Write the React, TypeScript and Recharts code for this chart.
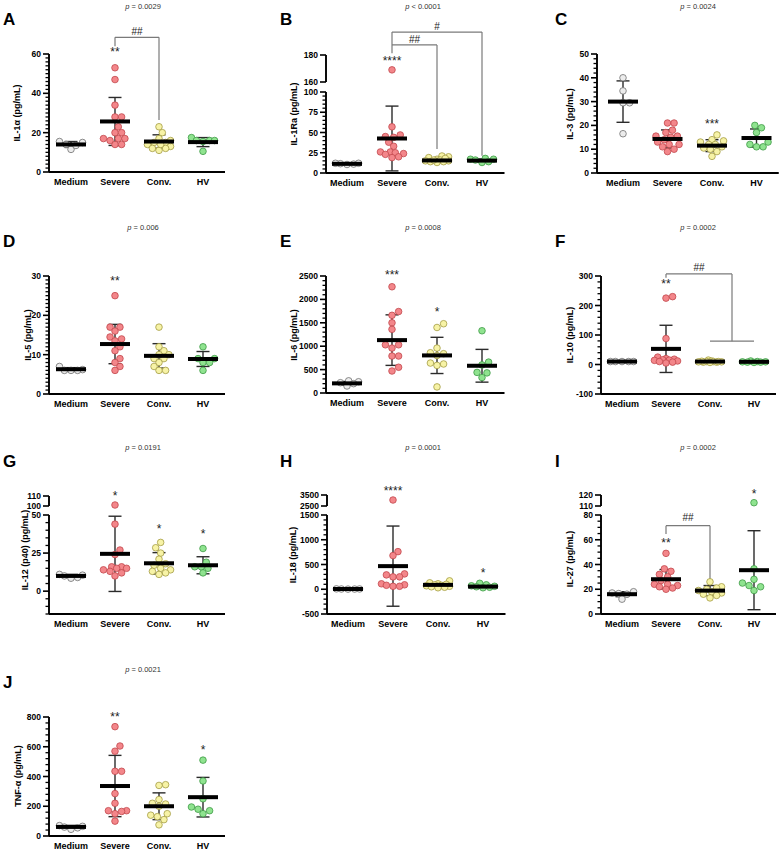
import React from 'react';
import { ComposedChart, Scatter, XAxis, YAxis, ErrorBar, ReferenceLine, ReferenceDot } from 'recharts';

// Groups shown on every x axis
const GROUPS = ['Medium', 'Severe', 'Conv.', 'HV'];
const DOT_FILL = ['#ececec', '#f3868a', '#f7f3a6', '#8fe38f'];
const DOT_STROKE = ['#707070', '#c2474d', '#a39c45', '#3f9a46'];

// ---- measured concentrations (pg/mL), per group: Medium, Severe, Conv., HV ----
const il1a = [
  [15, 15.5, 11.5, 14, 13.5],
  [53, 47, 34, 28, 28, 23, 20, 20, 17, 17, 17, 14, 14, 16],
  [23, 20, 17, 15, 15, 14, 13, 12, 12, 11, 16, 14],
  [17.5, 16, 16, 16, 15.5, 10.5],
];
const il1aMean = [14, 25.7, 15.5, 15.2];
const il1aSd = [1.5, 12.2, 3.4, 2.3];

const il1ra = [
  [12, 11, 11.5, 10.5, 12],
  [169, 57, 47, 45, 44, 38, 33, 26, 26, 25, 24, 23, 20, 19],
  [21, 20, 19, 17, 16, 15, 15, 14, 14, 13, 16, 18],
  [18, 17, 17, 16, 14, 13],
];
const il1raMean = [11.3, 42.6, 15.5, 15.3];
const il1raSd = [0.7, 40, 2.5, 2];

const il3 = [
  [40, 34.5, 29.5, 29.5, 16.5],
  [21, 21, 18, 17, 15.5, 15.5, 15, 14, 13, 12, 12, 11, 10, 9],
  [16, 14, 13.5, 13, 12, 12, 11, 10.5, 10, 9, 7],
  [20, 19, 17, 13, 11, 11, 12],
];
const il3Mean = [30, 14.3, 11.5, 14.7];
const il3Sd = [8.7, 3.8, 2.5, 3.8];

const il5 = [
  [7, 6.2, 6, 6, 6],
  [25, 17, 17, 16, 14.5, 14, 13.5, 12, 11, 9, 8, 7, 6],
  [17, 12, 11, 10, 10, 9, 9, 8, 7, 6, 6],
  [12, 9, 9, 8, 8, 6],
];
const il5Mean = [6.3, 12.7, 9.7, 8.9];
const il5Sd = [0.4, 5, 3.1, 1.9];

const il6 = [
  [260, 240, 220, 200, 150],
  [2270, 1740, 1660, 1500, 1360, 1030, 1030, 960, 790, 790, 550, 470],
  [1480, 1400, 960, 860, 840, 800, 640, 620, 590, 130],
  [1330, 660, 600, 440, 430, 330],
];
const il6Mean = [206, 1130, 803, 582];
const il6Sd = [40, 540, 387, 350];

const il10 = [
  [10, 10, 10, 10, 10],
  [230, 225, 88, 25, 20, 18, 16, 15, 14, 12, 10, 8, 5],
  [15, 12, 10, 10, 9, 8, 8, 10, 11, 9, 7],
  [12, 10, 9, 9, 8, 8, 7],
];
const il10Mean = [10, 53, 10, 9];
const il10Sd = [1, 80, 2, 1.5];

const il12 = [
  [11, 10.5, 10, 9, 8.5],
  [101, 44, 27, 24, 16, 16, 15, 15, 14, 13, 12, 10],
  [32, 28.5, 25, 21, 18, 17, 15, 14, 13, 12, 11],
  [28, 19, 16, 16, 15, 12],
];
const il12Mean = [10, 24.5, 18.3, 17];
const il12Sd = [1, 24.7, 7, 5.6];

const il18 = [
  [8, 6, 5, 4, 3],
  [3045, 760, 680, 310, 290, 250, 250, 110, 90, 80, 60, 60],
  [170, 130, 110, 100, 90, 80, 70, 60, 50, 40, 30],
  [120, 90, 70, 60, 50, 40, 30],
];
const il18Mean = [5, 467, 88, 54];
const il18Sd = [2, 810, 40, 30];

const il27 = [
  [18, 17, 16.5, 16, 12],
  [49, 36.5, 34.5, 32, 30, 27, 24, 24, 23, 22, 21, 20],
  [26, 22, 21, 20, 19, 18, 17, 16, 15, 13],
  [113, 36.5, 28, 25, 23, 22, 19],
];
const il27Mean = [16, 28.1, 18.9, 35.4];
const il27Sd = [2, 7.8, 4.1, 31.9];

const tnfa = [
  [70, 65, 60, 55, 45],
  [735, 605, 570, 435, 435, 285, 220, 170, 170, 165, 150, 100],
  [345, 340, 245, 220, 215, 200, 150, 140, 130, 110, 75],
  [510, 370, 250, 195, 180, 170, 150],
];
const tnfaMean = [61, 336, 200, 261];
const tnfaSd = [10, 206, 90, 133];

// ---- types ----
type Seg = { min: number; max: number; botPx: number; topPx: number; major: number[]; minor: number };
type Note = { x: number; y: number; text: string };
type Bracket = { path: [number, number][]; label?: Note };
type PanelDef = {
  letter: string;
  pOp: string;
  pVal: string;
  yLabel: string;
  values: number[][];
  means: number[];
  sds: number[];
  stars: Note[];
  brackets: Bracket[];
  col: number;
  row: number;
  axisX: number;
  catW: number;
  firstOff: number;
  labelX: number;
  labelY: number;
  lower: Seg;
  upper?: Seg;
};

const COL_LETTER_X = [3, 280, 555];
const COL_P_X = [143, 423, 698];
const ROW_LETTER_Y = [25, 247, 467, 688];
const ROW_P_Y = [9, 230, 450, 672];

const PANELS: PanelDef[] = [
  {
    letter: 'A', pOp: '=', pVal: '0.0029', yLabel: 'IL-1\u03b1 (pg/mL)',
    values: il1a, means: il1aMean, sds: il1aSd,
    stars: [{ x: 1, y: 61, text: '**' }],
    brackets: [{ path: [[1, 63.9], [1, 68.5], [2, 68.5], [2, 26.5]], label: { x: 1.5, y: 71.6, text: '##' } }],
    col: 0, row: 0, axisX: 49, catW: 44, firstOff: 22, labelX: 17, labelY: 113,
    lower: { min: 0, max: 60, botPx: 172, topPx: 54, major: [0, 20, 40, 60], minor: 2 },
  },
  {
    letter: 'B', pOp: '<', pVal: '0.0001', yLabel: 'IL-1Ra (pg/mL)',
    values: il1ra, means: il1raMean, sds: il1raSd,
    stars: [{ x: 1, y: 175.75, text: '****' }],
    brackets: [
      { path: [[1, 181.25], [1, 197], [3, 197], [3, 21.3]], label: { x: 2, y: 201.25, text: '#' } },
      { path: [[1, 187.5], [2, 187.5], [2, 29.5]], label: { x: 1.5, y: 191.25, text: '##' } },
    ],
    col: 1, row: 0, axisX: 326, catW: 45, firstOff: 21, labelX: 294, labelY: 114,
    lower: { min: 0, max: 100, botPx: 173, topPx: 92, major: [0, 25, 50, 75, 100], minor: 5 },
    upper: { min: 160, max: 180, botPx: 82, topPx: 55, major: [160, 180], minor: 0 },
  },
  {
    letter: 'C', pOp: '=', pVal: '0.0024', yLabel: 'IL-3 (pg/mL)',
    values: il3, means: il3Mean, sds: il3Sd,
    stars: [{ x: 2, y: 20.6, text: '***' }],
    brackets: [],
    col: 2, row: 0, axisX: 597, catW: 44.5, firstOff: 26, labelX: 570, labelY: 114,
    lower: { min: 0, max: 50, botPx: 173, topPx: 54, major: [0, 10, 20, 30, 40, 50], minor: 2 },
  },
  {
    letter: 'D', pOp: '=', pVal: '0.006', yLabel: 'IL-5 (pg/mL)',
    values: il5, means: il5Mean, sds: il5Sd,
    stars: [{ x: 1, y: 28.7, text: '**' }],
    brackets: [],
    col: 0, row: 1, axisX: 49, catW: 44, firstOff: 22, labelX: 28, labelY: 335,
    lower: { min: 0, max: 30, botPx: 394, topPx: 276, major: [0, 10, 20, 30], minor: 1 },
  },
  {
    letter: 'E', pOp: '=', pVal: '0.0008', yLabel: 'IL-6 (pg/mL)',
    values: il6, means: il6Mean, sds: il6Sd,
    stars: [{ x: 1, y: 2514, text: '***' }, { x: 2, y: 1726, text: '*' }],
    brackets: [],
    col: 1, row: 1, axisX: 326, catW: 45, firstOff: 21, labelX: 294, labelY: 335,
    lower: { min: 0, max: 2500, botPx: 393, topPx: 276, major: [0, 500, 1000, 1500, 2000, 2500], minor: 100 },
  },
  {
    letter: 'F', pOp: '=', pVal: '0.0002', yLabel: 'IL-10 (pg/mL)',
    values: il10, means: il10Mean, sds: il10Sd,
    stars: [{ x: 1, y: 272, text: '**' }],
    brackets: [
      { path: [[1, 294], [1, 307], [2.5, 307], [2.5, 79]], label: { x: 1.75, y: 328, text: '##' } },
      { path: [[2, 79], [3, 79]] },
    ],
    col: 2, row: 1, axisX: 601, catW: 44, firstOff: 21, labelX: 570, labelY: 335,
    lower: { min: -100, max: 300, botPx: 394, topPx: 276, major: [-100, 0, 100, 200, 300], minor: 20 },
  },
  {
    letter: 'G', pOp: '=', pVal: '0.0191', yLabel: 'IL-12 (p40) (pg/mL)',
    values: il12, means: il12Mean, sds: il12Sd,
    stars: [{ x: 1, y: 110.5, text: '*' }, { x: 2, y: 40.6, text: '*' }, { x: 3, y: 37.3, text: '*' }],
    brackets: [],
    col: 0, row: 2, axisX: 49, catW: 44, firstOff: 22, labelX: 25, labelY: 550,
    lower: { min: -15, max: 50, botPx: 614, topPx: 515, major: [0, 25, 50], minor: 5 },
    upper: { min: 100, max: 110, botPx: 506, topPx: 496, major: [100, 110], minor: 0 },
  },
  {
    letter: 'H', pOp: '=', pVal: '0.0001', yLabel: 'IL-18 (pg/mL)',
    values: il18, means: il18Mean, sds: il18Sd,
    stars: [{ x: 1, y: 3900, text: '****' }, { x: 3, y: 333, text: '*' }],
    brackets: [],
    col: 1, row: 2, axisX: 327, catW: 45, firstOff: 21, labelX: 293, labelY: 555,
    lower: { min: -500, max: 1500, botPx: 614, topPx: 515, major: [-500, 0, 500, 1000, 1500], minor: 100 },
    upper: { min: 2500, max: 3500, botPx: 506, topPx: 495, major: [2500, 3500], minor: 0 },
  },
  {
    letter: 'I', pOp: '=', pVal: '0.0002', yLabel: 'IL-27 (pg/mL)',
    values: il27, means: il27Mean, sds: il27Sd,
    stars: [{ x: 1, y: 57.3, text: '**' }, { x: 3, y: 121, text: '*' }],
    brackets: [{ path: [[1, 64.6], [1, 71.4], [2, 71.4], [2, 27.6]], label: { x: 1.5, y: 77.6, text: '##' } }],
    col: 2, row: 2, axisX: 601, catW: 44, firstOff: 21, labelX: 570, labelY: 559,
    lower: { min: 0, max: 80, botPx: 614, topPx: 515, major: [0, 20, 40, 60, 80], minor: 5 },
    upper: { min: 110, max: 120, botPx: 506, topPx: 495, major: [110, 120], minor: 0 },
  },
  {
    letter: 'J', pOp: '=', pVal: '0.0021', yLabel: 'TNF-\u03b1 (pg/mL)',
    values: tnfa, means: tnfaMean, sds: tnfaSd,
    stars: [{ x: 1, y: 800, text: '**' }, { x: 3, y: 579, text: '*' }],
    brackets: [],
    col: 0, row: 3, axisX: 49, catW: 44, firstOff: 22, labelX: 18, labelY: 776,
    lower: { min: 0, max: 800, botPx: 836, topPx: 717, major: [0, 200, 400, 600, 800], minor: 40 },
  },
];

const FONT = '"Liberation Sans", Arial, Helvetica, sans-serif';
const YW = 40;
const MT = 50;
const MR = 12;
const XH = 24;
const R = 3.3;
const MAX_SPREAD = 13;
const MINOR_LEN = 3.5;
const MAJOR_LEN = 6;

// Beeswarm: spread points sideways (px) so dots overlap as little as possible,
// within a fixed half-width around the group centre.
function swarm(vals: number[], toPx: (v: number) => number, r: number): number[] {
  const placed: { x: number; y: number }[] = [];
  const out: number[] = new Array(vals.length).fill(0);
  const order = vals.map((_, i) => i).sort((a, b) => vals[a] - vals[b]);
  const cands: number[] = [0];
  for (let k = 1; k * r * 0.5 <= MAX_SPREAD; k++) {
    cands.push(k * r * 0.5, -k * r * 0.5);
  }
  for (const i of order) {
    const y = toPx(vals[i]);
    let best = 0;
    let bestDist = -1;
    for (const c of cands) {
      const dmin = placed.length ? Math.min(...placed.map((p) => Math.hypot(p.x - c, p.y - y))) : Infinity;
      if (dmin >= 2 * r * 0.95) {
        best = c;
        bestDist = Infinity;
        break;
      }
      if (dmin > bestDist) {
        bestDist = dmin;
        best = c;
      }
    }
    out[i] = best;
    placed.push({ x: best, y });
  }
  return out;
}

function Panel({ d }: { d: PanelDef }) {
  const lo = d.lower;
  const up = d.upper;
  const pxLo = (lo.botPx - lo.topPx) / (lo.max - lo.min);
  const gapU = up ? (lo.topPx - up.botPx) / pxLo : 0;
  const upK = up ? (up.botPx - up.topPx) / (up.max - up.min) / pxLo : 1;
  // map a value onto the (possibly broken) axis
  const toD = (v: number) => (up && v >= up.min ? lo.max + gapU + (v - up.min) * upK : v);
  const dMin = lo.min;
  const dMax = up ? toD(up.max) : lo.max;
  const topPx = up ? up.topPx : lo.topPx;
  const plotH = lo.botPx - topPx;
  const xMin = -d.firstOff / d.catW;
  const xMax = 3.5;
  const plotW = (xMax - xMin) * d.catW;

  const tickInfo = new Map<string, { label: string; major: boolean; d: number }>();
  const addSeg = (s: Seg) => {
    const key = (v: number) => toD(v).toFixed(3);
    if (s.minor > 0) {
      for (let k = Math.ceil(s.min / s.minor - 1e-9); k * s.minor <= s.max + 1e-9; k++) {
        const v = k * s.minor;
        tickInfo.set(key(v), { label: String(v), major: false, d: toD(v) });
      }
    }
    s.major.forEach((v) => tickInfo.set(key(v), { label: String(v), major: true, d: toD(v) }));
  };
  addSeg(lo);
  if (up) addSeg(up);
  const tickList = Array.from(tickInfo.values());
  const majorVals = tickList.filter((t) => t.major).map((t) => t.d);

  const renderYTick = (props: any) => {
    const { y, payload } = props;
    const info = tickInfo.get(Number(payload.value).toFixed(3));
    if (!info) return <g />;
    return (
      <text x={YW - MAJOR_LEN - 2} y={y} textAnchor="end" dominantBaseline="central" fontSize={8.5} fontWeight="bold" fill="#000" fontFamily={FONT}>
        {info.label}
      </text>
    );
  };

  const renderXTick = (props: any) => {
    const { x } = props;
    const payload = props.payload;
    const y = MT + plotH;
    return (
      <text x={x} y={y + 10} textAnchor="middle" dominantBaseline="central" fontSize={9} fontWeight="bold" fill="#000" fontFamily={FONT}>
        {GROUPS[payload.value]}
      </text>
    );
  };

  const meanData = d.means.map((m, gi) => ({ x: gi, y: toD(m), err: d.sds[gi] }));

  return (
    <div style={{ position: 'absolute', left: d.axisX - YW, top: topPx - MT }}>
      <ComposedChart width={YW + plotW + MR} height={MT + plotH + XH} margin={{ top: MT, right: MR, bottom: 0, left: 0 }}>
        <XAxis
          type="number"
          dataKey="x"
          domain={[xMin, xMax]}
          allowDataOverflow
          ticks={[0, 1, 2, 3]}
          interval={0}
          tickSize={0}
          tickMargin={0}
          tickLine={false}
          axisLine={{ stroke: '#000', strokeWidth: 1.9 }}
          tick={renderXTick}
          height={XH}
        />
        <YAxis
          type="number"
          dataKey="y"
          domain={[dMin, dMax]}
          allowDataOverflow
          ticks={majorVals}
          interval={0}
          tickSize={0}
          tickMargin={0}
          tickLine={false}
          axisLine={false}
          tick={renderYTick}
          width={YW}
        />
        {/* axis spine, split into two pieces when the scale is broken */}
        <ReferenceLine
          segment={[{ x: xMin, y: toD(lo.min) }, { x: xMin, y: toD(lo.max) }]}
          stroke="#000"
          strokeWidth={1.9}
          ifOverflow="visible"
        />
        {up && (
          <ReferenceLine
            segment={[{ x: xMin, y: toD(up.min) }, { x: xMin, y: toD(up.max) }]}
            stroke="#000"
            strokeWidth={1.9}
            ifOverflow="visible"
          />
        )}
        {/* tick marks: long for labelled values, short in between */}
        {tickList.map((t, ti) => (
          <ReferenceLine
            key={`tk${ti}`}
            segment={[
              { x: xMin - (t.major ? MAJOR_LEN : MINOR_LEN) / d.catW, y: t.d },
              { x: xMin, y: t.d },
            ]}
            stroke="#000"
            strokeWidth={t.major ? 1.6 : 1.3}
            ifOverflow="visible"
          />
        ))}
        {d.values.map((vals, gi) => {
          const offs = swarm(vals, (v) => toD(v) * pxLo, R);
          const data = vals.map((v, i) => ({ x: gi + offs[i] / d.catW, y: toD(v) }));
          return (
            <Scatter
              key={`g${gi}`}
              data={data}
              isAnimationActive={false}
              shape={(p: any) => (
                <circle cx={p.cx} cy={p.cy} r={R} fill={DOT_FILL[gi]} stroke={DOT_STROKE[gi]} strokeWidth={0.8} />
              )}
            />
          );
        })}
        <Scatter
          data={meanData}
          isAnimationActive={false}
          shape={(p: any) => <rect x={p.cx - 15} y={p.cy - 2} width={30} height={4} fill="#000" />}
        >
          <ErrorBar dataKey="err" direction="y" width={6.5} stroke="#2b2b2b" strokeWidth={1.4} />
        </Scatter>
        {d.brackets.flatMap((b, bi) =>
          b.path.slice(1).map((pt, si) => (
            <ReferenceLine
              key={`br${bi}-${si}`}
              segment={[
                { x: b.path[si][0], y: toD(b.path[si][1]) },
                { x: pt[0], y: toD(pt[1]) },
              ]}
              stroke="#7a7a7a"
              strokeWidth={1.2}
              ifOverflow="visible"
            />
          ))
        )}
        {[...d.stars, ...d.brackets.filter((b) => b.label).map((b) => b.label as Note)].map((n, ni) => (
          <ReferenceDot
            key={`n${ni}`}
            x={n.x}
            y={toD(n.y)}
            r={0}
            ifOverflow="visible"
            shape={(p: any) => (
              <text
                x={p.cx}
                y={p.cy}
                textAnchor="middle"
                dominantBaseline="central"
                fontSize={n.text.startsWith('#') ? 10 : 12}
                fill="#222"
                fontFamily={FONT}
              >
                {n.text}
              </text>
            )}
          />
        ))}
      </ComposedChart>
    </div>
  );
}

export default function App() {
  return (
    <div style={{ position: 'absolute', left: 0, top: 0, width: 784, height: 852, background: '#fff', fontFamily: FONT }}>
      {PANELS.map((d) => (
        <Panel key={d.letter} d={d} />
      ))}
      <svg width={784} height={852} style={{ position: 'absolute', left: 0, top: 0, pointerEvents: 'none' }}>
        {PANELS.map((d) => (
          <g key={`t${d.letter}`} fontFamily={FONT}>
            <text x={COL_LETTER_X[d.col]} y={ROW_LETTER_Y[d.row]} fontSize={17} fontWeight="bold" fill="#000">
              {d.letter}
            </text>
            <text x={COL_P_X[d.col]} y={ROW_P_Y[d.row]} fontSize={7.5} textAnchor="middle" fill="#333">
              <tspan fontStyle="italic">p</tspan>
              {` ${d.pOp} ${d.pVal}`}
            </text>
            <text
              x={d.labelX}
              y={d.labelY}
              fontSize={9}
              fontWeight="bold"
              textAnchor="middle"
              dominantBaseline="central"
              fill="#000"
              transform={`rotate(-90 ${d.labelX} ${d.labelY})`}
            >
              {d.yLabel}
            </text>
          </g>
        ))}
      </svg>
    </div>
  );
}
